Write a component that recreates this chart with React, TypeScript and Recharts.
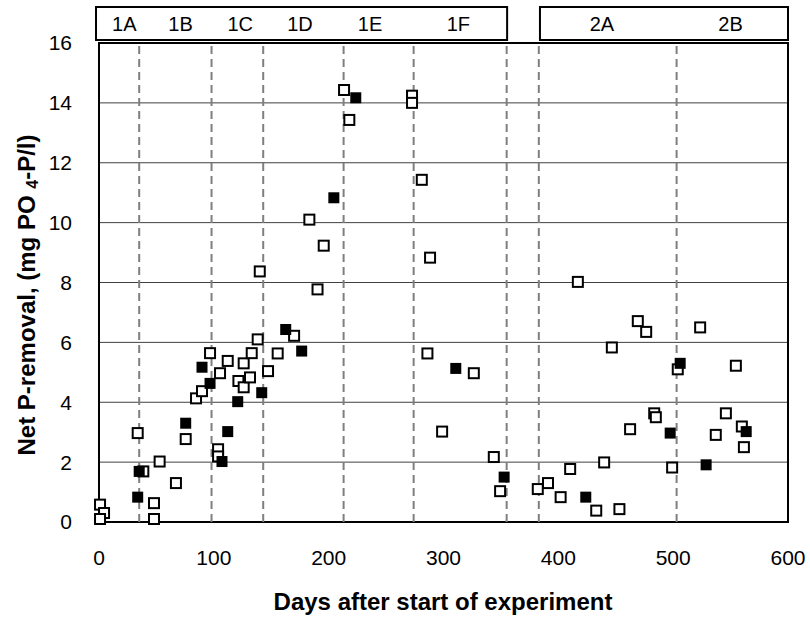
import {
  ComposedChart,
  Scatter,
  XAxis,
  YAxis,
  CartesianGrid,
  ReferenceLine,
  ReferenceArea,
} from "recharts";

// open squares: day, net P-removal
const openDays = [
  0.9, 4.4, 0.9, 33.7, 38.6, 47.9, 47.9, 52.8, 67, 75.5, 84.5, 89.7, 96.7, 103.7, 103.7, 105.4,
  112.1, 121.4, 126, 126, 131.5, 133, 138.2, 140, 147.2, 155.6, 169.9, 183.2, 190.3, 195.7, 213.4,
  218, 272.6, 272.6, 281.1, 286, 288.3, 298.8, 326.4, 343.8, 349.3, 382.1, 391, 402, 410.3, 417,
  433, 439.9, 446.6, 453.2, 462.5, 469.2, 476.5, 483.5, 484.9, 499.1, 504, 523.5, 537.1, 545.9,
  554.6, 559.8, 561.6,
];
const openVals = [
  0.58, 0.3, 0.1, 2.97, 1.69, 0.63, 0.1, 2.02, 1.3, 2.77, 4.13, 4.37, 5.64, 2.43, 2.19, 4.97,
  5.38, 4.71, 5.3, 4.5, 4.83, 5.64, 6.1, 8.37, 5.04, 5.63, 6.22, 10.1, 7.77, 9.23, 14.43,
  13.43, 14.24, 14.0, 11.43, 5.63, 8.83, 3.02, 4.97, 2.17, 1.03, 1.1, 1.3, 0.83, 1.77, 8.02,
  0.38, 1.99, 5.83, 0.43, 3.1, 6.71, 6.35, 3.63, 3.5, 1.82, 5.1, 6.5, 2.91, 3.63,
  5.22, 3.19, 2.5,
];

// filled squares
const filledDays = [
  33.7, 35, 75.5, 89.7, 96.7, 107.1, 112.1, 120.8, 141.7, 162.6, 176.5, 204.5, 223.6, 310.7,
  352.8, 423.9, 497.4, 506.1, 528.7, 563.6,
];
const filledVals = [
  0.83, 1.69, 3.3, 5.17, 4.63, 2.02, 3.02, 4.02, 4.32, 6.43, 5.71, 10.83, 14.17, 5.13,
  1.5, 0.83, 2.97, 5.3, 1.91, 3.02,
];

// period boundaries (dashed lines) and phase labels
const periodBreaks = [35, 98, 143, 213, 274, 355, 383, 503];
const phaseNames = ["1A", "1B", "1C", "1D", "1E", "1F", "2A", "2B"];
const phaseLabelDays = [22, 71, 123, 175, 236, 313, 438, 550];
const phaseBoxes = [
  { from: -2.6, to: 355.4 },
  { from: 384, to: 600 },
];

const xTicks = [0, 100, 200, 300, 400, 500, 600];
const yTicks = [0, 2, 4, 6, 8, 10, 12, 14, 16];

const openData = openDays.map((d, i) => ({ day: d, value: openVals[i] }));
const filledData = filledDays.map((d, i) => ({ day: d, value: filledVals[i] }));
const phaseData = phaseNames.map((n, i) => ({ day: phaseLabelDays[i], y: 0.5, name: n }));

const FONT = "'Liberation Sans', Arial, sans-serif";
const MARGIN_L = 99;
const MARGIN_R = 22;

const OpenSquare = (p: any) => (
  <rect x={p.cx - 5} y={p.cy - 5} width={10} height={10} fill="#fff" stroke="#000" strokeWidth={2} />
);
const FilledSquare = (p: any) => (
  <rect x={p.cx - 5.5} y={p.cy - 5.5} width={11} height={11} fill="#000" />
);
const PhaseLabel = (p: any) => (
  <text x={p.cx} y={p.cy} textAnchor="middle" dominantBaseline="central" fontSize={20} fontFamily={FONT} fill="#000">
    {p.payload.name}
  </text>
);

const YTitle = () => (
  <text
    x={26}
    y={295}
    transform="rotate(-90, 26, 295)"
    textAnchor="middle"
    dominantBaseline="central"
    fontSize={24}
    fontWeight="bold"
    fontFamily={FONT}
    fill="#000"
  >
    Net P-removal, (mg PO <tspan fontSize={16} dy={6}>4</tspan>
    <tspan dy={-6}>-P/l)</tspan>
  </text>
);

const XTitle = () => (
  <text x={443} y={601} textAnchor="middle" dominantBaseline="central" fontSize={24} fontWeight="bold" fontFamily={FONT} fill="#000">
    Days after start of experiment
  </text>
);

export default function App() {
  return (
    <div style={{ position: "absolute", left: 0, top: 0, width: 810, height: 630, background: "#fff" }}>
      <div style={{ position: "absolute", left: 0, top: 0 }}>
        <ComposedChart width={810} height={630} margin={{ top: 43, right: MARGIN_R, bottom: 48, left: MARGIN_L - 60 }}>
          <CartesianGrid vertical={false} stroke="#404040" strokeWidth={1} />
          <XAxis
            dataKey="day"
            type="number"
            domain={[0, 600]}
            ticks={xTicks}
            axisLine={false}
            tickLine={false}
            tickMargin={22}
            height={60}
            tick={{ fontSize: 21, fill: "#000", fontFamily: FONT }}
            label={{ content: XTitle }}
          />
          <YAxis
            dataKey="value"
            type="number"
            domain={[0, 16]}
            ticks={yTicks}
            axisLine={false}
            tickLine={false}
            tickMargin={21}
            width={60}
            tick={{ fontSize: 21, fill: "#000", fontFamily: FONT }}
            label={{ content: YTitle }}
          />
          {periodBreaks.map((d) => (
            <ReferenceLine key={d} x={d} stroke="#7f7f7f" strokeWidth={2} strokeDasharray="8 5" />
          ))}
          <ReferenceArea x1={0} x2={600} y1={0} y2={16} fill="none" stroke="#000" strokeWidth={2} ifOverflow="visible" />
          <Scatter data={openData} shape={OpenSquare} isAnimationActive={false} />
          <Scatter data={filledData} shape={FilledSquare} isAnimationActive={false} />
        </ComposedChart>
      </div>
      <div style={{ position: "absolute", left: 0, top: 0 }}>
        <ComposedChart width={810} height={45} margin={{ top: 7, right: MARGIN_R, bottom: 5, left: MARGIN_L }}>
          <XAxis dataKey="day" type="number" domain={[0, 600]} hide />
          <YAxis dataKey="y" type="number" domain={[0, 1]} hide />
          {phaseBoxes.map((b) => (
            <ReferenceArea
              key={b.from}
              x1={b.from}
              x2={b.to}
              y1={0}
              y2={1}
              fill="#fff"
              stroke="#000"
              strokeWidth={2}
              ifOverflow="visible"
            />
          ))}
          <Scatter data={phaseData} shape={PhaseLabel} isAnimationActive={false} />
        </ComposedChart>
      </div>
    </div>
  );
}
